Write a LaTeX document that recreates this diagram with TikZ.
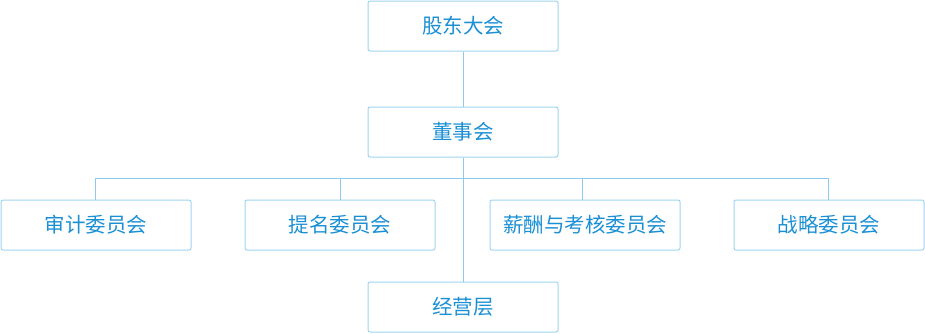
\documentclass[tikz,border=0pt]{standalone}
\usepackage{fontspec}
\setmainfont{Noto Sans CJK SC}
\definecolor{bordc}{HTML}{9ED4F0}
\definecolor{linec}{HTML}{8DCBEE}
\definecolor{txtc}{HTML}{1A8FD4}
\begin{document}
\begin{tikzpicture}[x=1pt,y=-1pt,
  orgbox/.style={draw=bordc,line width=1pt,rounded corners=2pt,minimum width=190pt,minimum height=50pt,inner sep=0pt,text=txtc,font=\fontsize{20.5}{24}\selectfont,anchor=center},
  conn/.style={draw=linec,line width=1pt}]
\useasboundingbox (0,0) rectangle (925,333);
\node[orgbox] (gd) at (463,26) {股东大会};
\node[orgbox] (ds) at (463,132) {董事会};
\node[orgbox] (sj) at (96,225) {审计委员会};
\node[orgbox] (tm) at (340,225) {提名委员会};
\node[orgbox] (xc) at (585,225) {薪酬与考核委员会};
\node[orgbox] (zl) at (829,225) {战略委员会};
\node[orgbox] (jy) at (463,307) {经营层};
\coordinate (hl) at (95,178);
\coordinate (hr) at (828,178);
\draw[conn] (gd.south) -- (ds.north);
\draw[conn] (ds.south) -- (jy.north);
\draw[conn] (sj.north -| hl) -- (hl) -- (hr) -- (zl.north -| hr);
\draw[conn] (tm.north) -- (tm.north |- hl);
\draw[conn] (582,178) coordinate (xt) -- (xc.north -| xt);
\end{tikzpicture}
\end{document}
